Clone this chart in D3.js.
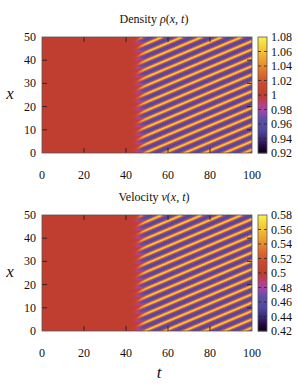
<!DOCTYPE html>
<html>
<head>
<meta charset="utf-8">
<script src="https://cdn.jsdelivr.net/npm/d3@7"></script>
<style>
  body { margin: 0; background: #fff; }
  svg text { font-family: "Liberation Serif", "DejaVu Serif", serif; fill: #111; }
</style>
</head>
<body>
<svg id="chart" width="297" height="385"></svg>
<script>
// axis ticks
const tTicks = [0, 20, 40, 60, 80, 100];
const xTicks = [0, 10, 20, 30, 40, 50];
const densityTicks = [0.92, 0.94, 0.96, 0.98, 1.0, 1.02, 1.04, 1.06, 1.08];
const velocityTicks = [0.42, 0.44, 0.46, 0.48, 0.5, 0.52, 0.54, 0.56, 0.58];

// field: flat state before onset, then drifting stripes
const baseValues = [1.0, 0.5];          // density, velocity
const onsetT = [46.5];                   // where the stripes start
const stripeWavelength = [3.6];          // spacing along x
const stripeDrift = [0.38];              // dx/dt of the stripes
const stripePeak = [0.06];               // main amplitude
const stripeSkew = [0.012];              // narrower peaks, wider troughs

const panels = [
  {title: "Density", sym: "ρ", domain: [0.92, 1.08], ticks: densityTicks, base: baseValues[0], top: 37},
  {title: "Velocity", sym: "v", domain: [0.42, 0.58], ticks: velocityTicks, base: baseValues[1], top: 215}
];

const left = 42, width = 210, height = 116;
const cbLeft = 258, cbWidth = 9;

const paletteStops = [0, 0.06, 0.12, 0.2, 0.3, 0.36, 0.42, 0.47, 0.5, 0.6, 0.7, 0.8, 0.9, 1];
const paletteColors = ["#0b0014", "#24093f", "#3a2578", "#5047a0", "#5f50a8", "#9a48aa", "#b8408a",
  "#c03c45", "#bf3f30", "#cc4a2c", "#e0702c", "#eea030", "#f5c838", "#f8f24e"];

const svg = d3.select("#chart");

function fieldAt(t, x) {
  const p = 2 * Math.PI * (x - stripeDrift[0] * t) / stripeWavelength[0] + 0.6;
  const t0 = onsetT[0] + 1.3 * Math.sin(p);
  const env = 1 / (1 + Math.exp(-(t - t0) / 1.1));
  return env * (stripePeak[0] * Math.cos(p) + stripeSkew[0] * Math.cos(2 * p));
}

panels.forEach(pn => {
  const x = d3.scaleLinear().domain([0, 100]).range([left, left + width]);
  const y = d3.scaleLinear().domain([0, 50]).range([pn.top + height, pn.top]);
  const frac = d3.scaleLinear().domain(pn.domain).range([0, 1]).clamp(true);
  const pal = d3.scaleLinear().domain(paletteStops).range(paletteColors).interpolate(d3.interpolateRgb);
  const color = v => pal(frac(v));

  // heat map on a canvas, put in as an image
  const nt = 210, nx = 116;
  const canvas = document.createElement("canvas");
  canvas.width = width; canvas.height = height;
  const ctx = canvas.getContext("2d");
  const dt = 100 / nt, dx = 50 / nx;
  for (let i = 0; i < nt; i++) {
    for (let j = 0; j < nx; j++) {
      const tc = (i + 0.5) * dt, xc = (j + 0.5) * dx;
      ctx.fillStyle = color(pn.base + fieldAt(tc, xc));
      const px = x(i * dt) - left, py = y((j + 1) * dx) - pn.top;
      ctx.fillRect(px, py, x((i + 1) * dt) - x(i * dt) + 0.5, y(j * dx) - y((j + 1) * dx) + 0.5);
    }
  }
  svg.append("image")
    .attr("x", left).attr("y", pn.top)
    .attr("width", width).attr("height", height)
    .attr("href", canvas.toDataURL());

  // ticks inside the frame
  const g = svg.append("g");
  tTicks.slice(1, -1).forEach(v => {
    g.append("line").attr("x1", x(v)).attr("x2", x(v)).attr("y1", pn.top + height).attr("y2", pn.top + height - 5);
    g.append("line").attr("x1", x(v)).attr("x2", x(v)).attr("y1", pn.top).attr("y2", pn.top + 5);
  });
  xTicks.slice(1, -1).forEach(v => {
    g.append("line").attr("x1", left).attr("x2", left + 5).attr("y1", y(v)).attr("y2", y(v));
    g.append("line").attr("x1", left + width).attr("x2", left + width - 5).attr("y1", y(v)).attr("y2", y(v));
  });
  g.selectAll("line").attr("stroke", "#2a1a1a").attr("stroke-width", 0.9);
  svg.append("rect").attr("x", left).attr("y", pn.top).attr("width", width).attr("height", height)
    .attr("fill", "none").attr("stroke", "#555").attr("stroke-width", 0.8);

  // tick labels
  svg.append("g").selectAll("text").data(tTicks).join("text")
    .attr("x", d => x(d)).attr("y", pn.top + height + 26)
    .attr("text-anchor", "middle").attr("font-size", 12).text(d => d);
  svg.append("g").selectAll("text").data(xTicks).join("text")
    .attr("x", left - 6).attr("y", d => y(d) + 4)
    .attr("text-anchor", "end").attr("font-size", 12).text(d => d);

  // axis label x
  svg.append("text").attr("x", 10).attr("y", pn.top + height / 2 + 4)
    .attr("text-anchor", "middle").attr("font-size", 17).attr("font-style", "italic").text("x");

  // title
  const title = svg.append("text").attr("x", 154).attr("y", pn.top - 14)
    .attr("text-anchor", "middle").attr("font-size", 12);
  title.append("tspan").text(pn.title + " ");
  title.append("tspan").attr("font-style", "italic").text(pn.sym);
  title.append("tspan").text("(");
  title.append("tspan").attr("font-style", "italic").text("x");
  title.append("tspan").text(", ");
  title.append("tspan").attr("font-style", "italic").text("t");
  title.append("tspan").text(")");

  // colour bar
  const cy = d3.scaleLinear().domain(pn.domain).range([pn.top + height, pn.top]);
  const steps = d3.range(height).map(k => pn.domain[0] + (k + 0.5) * (pn.domain[1] - pn.domain[0]) / height);
  const stepH = height / steps.length;
  svg.append("g").selectAll("rect").data(steps).join("rect")
    .attr("x", cbLeft).attr("width", cbWidth)
    .attr("y", d => cy(d) - stepH / 2).attr("height", stepH + 0.4)
    .attr("fill", d => color(d));
  const cg = svg.append("g");
  pn.ticks.slice(1, -1).forEach(v => {
    cg.append("line").attr("x1", cbLeft).attr("x2", cbLeft + 3).attr("y1", cy(v)).attr("y2", cy(v));
    cg.append("line").attr("x1", cbLeft + cbWidth).attr("x2", cbLeft + cbWidth - 3).attr("y1", cy(v)).attr("y2", cy(v));
  });
  cg.selectAll("line").attr("stroke", "#222").attr("stroke-width", 0.8);
  svg.append("rect").attr("x", cbLeft).attr("y", pn.top).attr("width", cbWidth).attr("height", height)
    .attr("fill", "none").attr("stroke", "#555").attr("stroke-width", 0.8);
  svg.append("g").selectAll("text").data(pn.ticks).join("text")
    .attr("x", cbLeft + cbWidth + 4).attr("y", d => cy(d) + 4)
    .attr("font-size", 12).text(d => d === pn.base ? d3.format("")(d) : d3.format(".2f")(d));
});

// t label under the lower panel
svg.append("text").attr("x", 159).attr("y", 378)
  .attr("text-anchor", "middle").attr("font-size", 17).attr("font-style", "italic").text("t");
</script>
</body>
</html>
